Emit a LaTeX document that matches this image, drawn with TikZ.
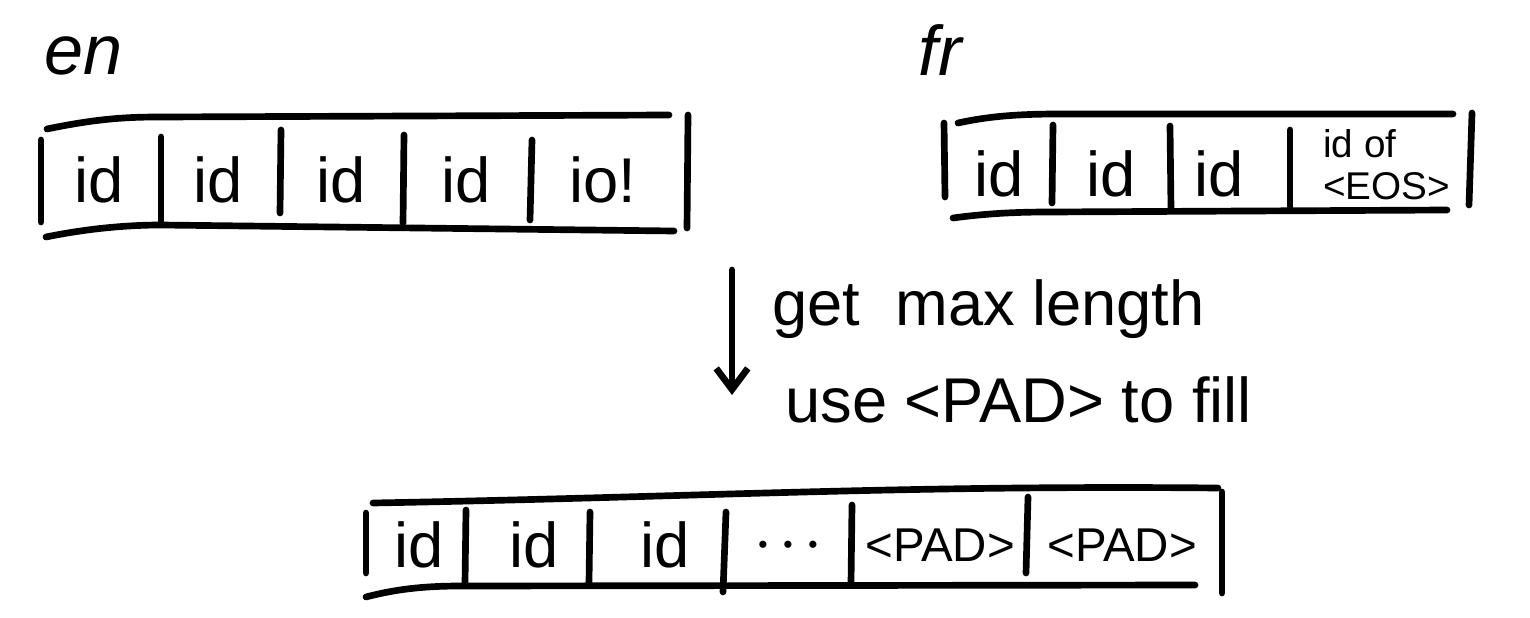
\documentclass[tikz,border=0pt]{standalone}
\usepackage{fontspec}
\setmainfont{Liberation Sans}
\usepackage{tikz}
\usetikzlibrary{arrows.meta, positioning}

\begin{document}
\begin{tikzpicture}[x=0.02cm, y=-0.02cm,
    bar/.style={draw, line width=3.8pt, line cap=round},
    cell/.style={inner sep=0pt, font=\fontsize{36}{38}\selectfont},
    small/.style={inner sep=0pt, anchor=west, align=left, font=\fontsize{22}{24}\selectfont},
    padcell/.style={inner sep=0pt, font=\fontsize{27}{29}\selectfont},
    tag/.style={inner sep=0pt, font=\fontsize{40}{42}\selectfont\itshape},
    note/.style={inner sep=0pt, anchor=base west, font=\fontsize{36}{38}\selectfont},
    line/.style={draw, line width=3.8pt, line cap=round, -{Straight Barb[length=12pt, width=18pt]}}]

    \useasboundingbox (0,0) rectangle (1530,618);

    % Source sentence (en)
    \node [tag] (en) at (84,56) {en};
    \path [bar] (47,129) .. controls (100,118) and (130,117) .. (161,117) -- (669,115);
    \path [bar] (46,237) .. controls (90,228) and (130,225) .. (161,225) -- (674,231);
    \path [bar] (41,140) -- (41,222);
    \path [bar] (688,115) -- (687,228);
    \path [bar] (161,137) -- (161,224);
    \path [bar] (281,130) -- (280,213);
    \path [bar] (404,135) -- (403,223);
    \path [bar] (532,140) -- (530,220);
    \node [cell] (en1) at (99,180) {id};
    \node [cell] (en2) at (218,180) {id};
    \node [cell] (en3) at (341,180) {id};
    \node [cell] (en4) at (466,180) {id};
    \node [cell] (en5) at (603,180) {io!};

    % Target sentence (fr)
    \node [tag] (fr) at (940,50) {fr};
    \path [bar] (958,123) .. controls (990,116) and (1020,114) .. (1060,114) -- (1453,114);
    \path [bar] (953,218) .. controls (990,213) and (1020,212) .. (1050,212) -- (1447,210);
    \path [bar] (944,123) -- (945,197);
    \path [bar] (1472,113) -- (1469,205);
    \path [bar] (1053,125) -- (1052,203);
    \path [bar] (1170,126) -- (1171,210);
    \path [bar] (1290,130) -- (1290,210);
    \node [cell] (fr1) at (999,174) {id};
    \node [cell] (fr2) at (1111,174) {id};
    \node [cell] (fr3) at (1219,174) {id};
    \node [small] (fr4) at (1323,165) {id of\\<EOS>};

    % Padding step
    \coordinate (from) at (732,270);
    \coordinate (to) at (732,395);
    \path [line] (from) -- (to);
    \node [note] (get) at (772,325) {get\ \ max length};
    \node [note] (use) at (785,422) {use <PAD> to fill};

    % Padded batch row
    \path [bar] (373,503) .. controls (700,497) and (900,485) .. (1218,488);
    \path [bar] (366,597) .. controls (400,588) and (430,586) .. (461,586) -- (1195,585);
    \path [bar] (366,513) -- (366,573);
    \path [bar] (1222,492) -- (1222,593);
    \path [bar] (466,510) -- (465,583);
    \path [bar] (590,512) -- (589,582);
    \path [bar] (726,512) -- (723,592);
    \path [bar] (852,505) -- (851,583);
    \path [bar] (1028,497) -- (1026,573);
    \node [cell] (out1) at (419,545) {id};
    \node [cell] (out2) at (534,545) {id};
    \node [cell] (out3) at (665,545) {id};
    \node [cell, font=\fontsize{15}{17}\selectfont] (out4) at (788,547) {•\hspace{9pt}•\hspace{9pt}•};
    \node [padcell] (out5) at (940,545) {<PAD>};
    \node [padcell] (out6) at (1122,545) {<PAD>};
\end{tikzpicture}
\end{document}
